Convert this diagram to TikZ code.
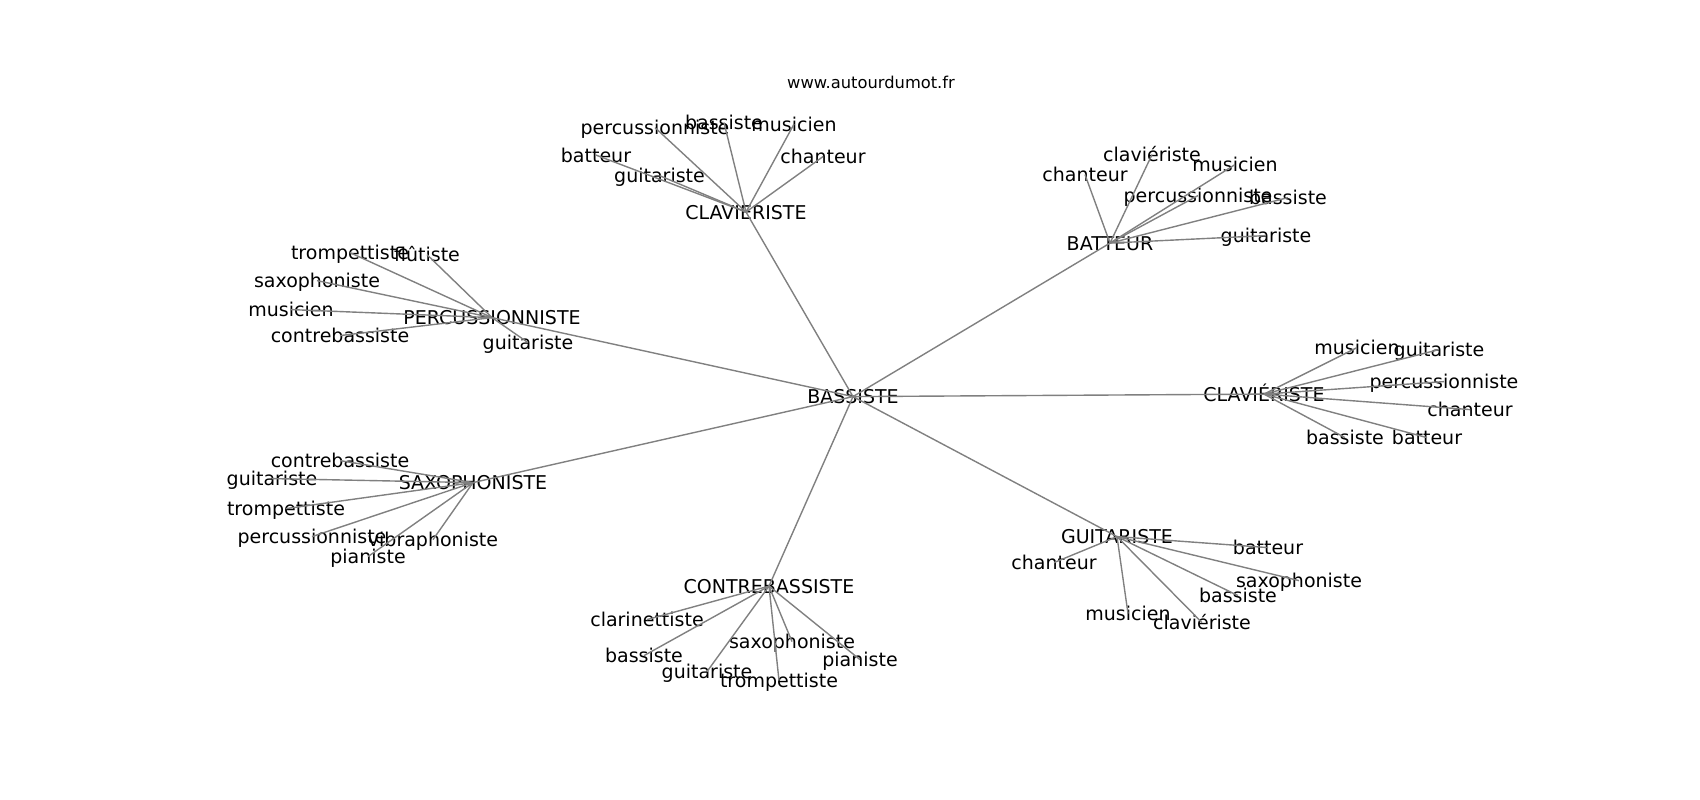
\documentclass[tikz,border=0pt]{standalone}
\usepackage{fontspec}
\setmainfont{DejaVu Sans}
\tikzset{
  lbl/.style={font=\fontsize{19}{19}\selectfont, inner sep=0pt, text height=17.1pt, text depth=2.5pt, text=black},
  edge/.style={draw=gray, line width=1.4pt},
  ttl/.style={font=\fontsize{16.3}{16.3}\selectfont, inner sep=0pt, anchor=base}
}
\begin{document}
\begin{tikzpicture}[x=1pt,y=-1pt]
\useasboundingbox (0,0) rectangle (1700,800);
\node[ttl] (title) at (871,88.5) {www.autourdumot.fr};
\begin{scope}[yshift=2.4pt]
% hub
\node[lbl] (B) at (853,399) {BASSISTE};
% top CLAVIERISTE
\node[lbl] (C1) at (746,214.4) {CLAVIERISTE};
\node[lbl] (c1a) at (655,130) {percussionniste};
\node[lbl] (c1b) at (724,125) {bassiste};
\node[lbl] (c1c) at (794,126.5) {musicien};
\node[lbl] (c1d) at (596,157.5) {batteur};
\node[lbl] (c1e) at (659.5,178) {guitariste};
\node[lbl] (c1f) at (823,159) {chanteur};
% BATTEUR
\node[lbl] (BT) at (1110,245.5) {BATTEUR};
\node[lbl] (bta) at (1152,157) {claviériste};
\node[lbl] (btb) at (1085,177) {chanteur};
\node[lbl] (btc) at (1235,167) {musicien};
\node[lbl] (btd) at (1198,198) {percussionniste};
\node[lbl] (bte) at (1288,200) {bassiste};
\node[lbl] (btf) at (1266,238) {guitariste};
% PERCUSSIONNISTE
\node[lbl] (P) at (492,320) {PERCUSSIONNISTE};
\node[lbl] (pa) at (350,255) {trompettiste};
\node[lbl] (pb) at (427,257) {flûtiste};
\node[lbl] (pc) at (317,283) {saxophoniste};
\node[lbl] (pd) at (291,312) {musicien};
\node[lbl] (pe) at (340,338) {contrebassiste};
\node[lbl] (pf) at (528,345) {guitariste};
% CLAVIÉRISTE right
\node[lbl] (C2) at (1264,396.5) {CLAVIÉRISTE};
\node[lbl] (c2a) at (1357,350) {musicien};
\node[lbl] (c2b) at (1439,352) {guitariste};
\node[lbl] (c2c) at (1444,384) {percussionniste};
\node[lbl] (c2d) at (1470,412) {chanteur};
\node[lbl] (c2e) at (1345,440) {bassiste};
\node[lbl] (c2f) at (1427,440) {batteur};
% SAXOPHONISTE
\node[lbl] (S) at (473,485) {SAXOPHONISTE};
\node[lbl] (sa) at (340,463) {contrebassiste};
\node[lbl] (sb) at (272,481) {guitariste};
\node[lbl] (sc) at (286,511) {trompettiste};
\node[lbl] (sd) at (312,539) {percussionniste};
\node[lbl] (se) at (433,542) {vibraphoniste};
\node[lbl] (sf) at (368,559) {pianiste};
% CONTREBASSISTE
\node[lbl] (K) at (769,588.5) {CONTREBASSISTE};
\node[lbl] (ka) at (647,622) {clarinettiste};
\node[lbl] (kb) at (644,658) {bassiste};
\node[lbl] (kc) at (792,644) {saxophoniste};
\node[lbl] (kd) at (860,662) {pianiste};
\node[lbl] (ke) at (707,674) {guitariste};
\node[lbl] (kf) at (779,683) {trompettiste};
% GUITARISTE
\node[lbl] (G) at (1117,539) {GUITARISTE};
\node[lbl] (ga) at (1268,550) {batteur};
\node[lbl] (gb) at (1054,565) {chanteur};
\node[lbl] (gc) at (1299,583) {saxophoniste};
\node[lbl] (gd) at (1238,598) {bassiste};
\node[lbl] (ge) at (1128,616) {musicien};
\node[lbl] (gf) at (1202,625) {claviériste};
\end{scope}
% edges
\begin{scope}[edge]
\foreach \h in {C1,BT,P,C2,S,K,G} \draw (B.center) -- (\h.center);
\foreach \l in {c1a,c1b,c1c,c1d,c1e,c1f} \draw (C1.center) -- (\l.center);
\foreach \l in {bta,btb,btc,btd,bte,btf} \draw (BT.center) -- (\l.center);
\foreach \l in {pa,pb,pc,pd,pe,pf} \draw (P.center) -- (\l.center);
\foreach \l in {c2a,c2b,c2c,c2d,c2e,c2f} \draw (C2.center) -- (\l.center);
\foreach \l in {sa,sb,sc,sd,se,sf} \draw (S.center) -- (\l.center);
\foreach \l in {ka,kb,kc,kd,ke,kf} \draw (K.center) -- (\l.center);
\foreach \l in {ga,gb,gc,gd,ge,gf} \draw (G.center) -- (\l.center);
\end{scope}
\end{tikzpicture}
\end{document}
